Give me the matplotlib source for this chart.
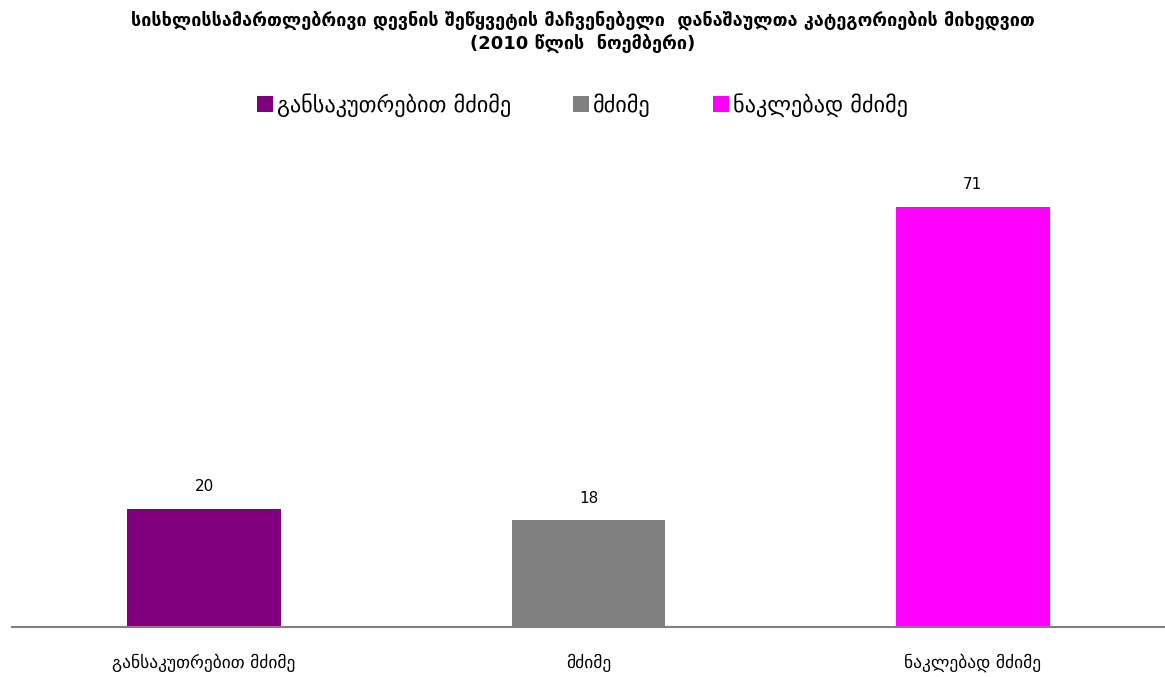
import matplotlib
matplotlib.use("Agg")
import matplotlib.pyplot as plt
from matplotlib.patches import Patch

plt.rcParams['font.family'] = ['DejaVu Sans']

# data
categories = ["განსაკუთრებით მძიმე", "მძიმე", "ნაკლებად მძიმე"]
values = [20, 18, 71]
colors = ["#800080", "#808080", "#FF00FF"]
title = ("სისხლისსამართლებრივი დევნის შეწყვეტის მაჩვენებელი  დანაშაულთა კატეგორიების მიხედვით\n"
         "(2010 წლის  ნოემბერი)")

fig = plt.figure(figsize=(11.65, 6.77), dpi=100)
ax = fig.add_axes([0.0103, 0.0739, 0.9897, 0.699])

x = list(range(len(categories)))
bars = ax.bar(x, values, width=0.4, color=colors)
for xi, v in zip(x, values):
    ax.text(xi, v + 2.5, str(v), ha="center", va="bottom", fontsize=11)

ax.set_xlim(-0.5, 2.5)
ax.set_ylim(0, 80)
ax.set_xticks(x)
ax.set_xticklabels(categories, fontsize=12.5)
ax.tick_params(axis="x", length=0, pad=19)
ax.set_yticks([])
for s in ["top", "right", "left"]:
    ax.spines[s].set_visible(False)
ax.spines["bottom"].set_color("#808080")
ax.spines["bottom"].set_linewidth(1.5)

fig.text(0.5, 0.953, title, ha="center", va="center", fontsize=13,
         fontweight="bold", linespacing=1.3)

handles = [Patch(facecolor=c) for c in colors]
fig.legend(handles, categories, loc="center", bbox_to_anchor=(0.5, 0.845),
           ncol=3, frameon=False, fontsize=16, handlelength=0.7,
           handleheight=0.7, handletextpad=0.2, columnspacing=2.8)

fig.savefig("out.png", dpi=100)
